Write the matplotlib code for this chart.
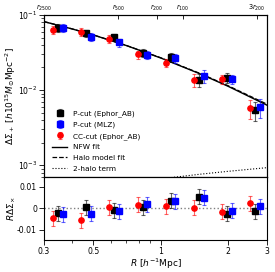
import numpy as np
import matplotlib
matplotlib.use("Agg")
import matplotlib.pyplot as plt
from matplotlib.ticker import FixedLocator, NullFormatter, NullLocator

# ---------------- data ----------------
R_bins = [0.347, 0.463, 0.620, 0.830, 1.11, 1.49, 1.98, 2.65]

ds_black = [0.0677, 0.0570, 0.0504, 0.0315, 0.0273, 0.0136, 0.0146, 0.0054]
ds_blue = [0.0677, 0.0514, 0.0432, 0.0293, 0.0264, 0.0154, 0.0140, 0.0060]
ds_red = [0.0630, 0.0600, 0.0479, 0.0299, 0.0231, 0.0136, 0.0139, 0.0058]
ds_frac_err = [0.12, 0.12, 0.12, 0.12, 0.13, 0.20, 0.14, 0.28]

dx_black = [-0.0022, 0.0005, -0.0008, 0.0005, 0.0036, 0.0054, -0.0025, -0.0013]
dx_blue = [-0.0027, -0.0025, -0.0013, 0.0020, 0.0033, 0.0050, -0.0010, 0.0010]
dx_red = [-0.0045, -0.0056, 0.0006, 0.0017, 0.0011, 0.0003, -0.0015, 0.0025]
dx_err = [0.0035, 0.0035, 0.0035, 0.0035, 0.0035, 0.0035, 0.0035, 0.0035]

R_model = [0.3, 0.4, 0.5, 0.7, 1.0, 1.5, 2.0, 3.0]
nfw_fit = [0.0815, 0.0653, 0.0541, 0.0393, 0.0268, 0.0165, 0.0113, 0.0063]
halo_fit = [0.0816, 0.0654, 0.0542, 0.0394, 0.0270, 0.0167, 0.0115, 0.0065]
R_2h = [0.8, 1.0, 1.5, 2.0, 3.0]
two_halo = [6.0e-4, 6.6e-4, 7.6e-4, 8.3e-4, 9.3e-4]

top_ticks = [0.30, 0.647, 0.962, 1.26, 2.71]
top_labels = [r"$r_{2500}$", r"$r_{500}$", r"$r_{200}$", r"$r_{100}$", r"$3r_{200}$"]

series = [
    ("P-cut (Ephor_AB)", ds_black, dx_black, "k", "s", 1.0),
    ("P-cut (MLZ)", ds_blue, dx_blue, "#0000ff", "s", 1.05),
    ("CC-cut (Ephor_AB)", ds_red, dx_red, "#ff0000", "o", 0.95),
]

# ---------------- figure ----------------
fig = plt.figure(figsize=(2.75, 2.72), dpi=100)
gs = fig.add_gridspec(2, 1, height_ratios=[162, 63], hspace=0,
                      left=0.16, right=0.971, top=0.945, bottom=0.118)
ax1 = fig.add_subplot(gs[0])
ax2 = fig.add_subplot(gs[1], sharex=ax1)

fs_tick = 5.6
fs_lab = 6.5

handles = []
for label, ds, dx, col, mk, fac in series:
    R = np.array(R_bins) * fac
    ds = np.array(ds)
    err = ds * np.array(ds_frac_err)
    ms = 4.2 if mk == "s" else 3.8
    h = ax1.errorbar(R, ds, yerr=err, fmt=mk, color=col, ms=ms,
                     ecolor=col, elinewidth=0.8, capsize=1.6, capthick=0.8,
                     label=label, zorder=3)
    for art in h[1] + h[2]:
        art.set_alpha(0.6)
    handles.append(h)
    h2 = ax2.errorbar(R, dx, yerr=dx_err, fmt=mk, color=col, ms=ms,
                      ecolor=col, elinewidth=0.8, capsize=1.6, capthick=0.8, zorder=3)
    for art in h2[1] + h2[2]:
        art.set_alpha(0.6)

l1, = ax1.plot(R_model, nfw_fit, "-", color="k", lw=1.0, label="NFW fit", zorder=2)
l2, = ax1.plot(R_model, halo_fit, "--", color="k", lw=0.9, label="Halo model fit", zorder=2)
l3, = ax1.plot(R_2h, two_halo, ":", color="k", lw=0.8, label="2-halo term", zorder=2)
handles += [l1, l2, l3]

ax1.set_xscale("log")
ax1.set_yscale("log")
ax1.set_xlim(0.3, 3.0)
ax1.set_ylim(7e-4, 0.1)
ax1.tick_params(axis="x", which="both", bottom=False, labelbottom=False)
ax1.tick_params(axis="y", which="major", labelsize=fs_tick, length=3.5, width=0.6,
                direction="out", pad=1.5)
ax1.tick_params(axis="y", which="minor", length=2, width=0.5, direction="out")
ax1.set_ylabel(r"$\Delta\Sigma_+\ [h10^{15}M_{\odot}{\rm Mpc}^{-2}]$", fontsize=fs_lab)

leg = ax1.legend(handles=handles, loc="lower left", frameon=False, fontsize=5.3,
                 handlelength=2.0, handletextpad=0.8, labelspacing=0.62,
                 borderaxespad=0.3, bbox_to_anchor=(0.015, 0.0))

# top axis with characteristic radii
axt = ax1.twiny()
axt.set_xscale("log")
axt.set_xlim(ax1.get_xlim())
axt.xaxis.set_major_locator(FixedLocator(top_ticks))
axt.xaxis.set_minor_locator(NullLocator())
axt.set_xticklabels(top_labels)
axt.tick_params(axis="x", which="major", labelsize=4.8, length=3, width=0.6,
                direction="in", pad=1.5)

# lower panel
ax2.axhline(0, color="gray", ls=":", lw=1.0, zorder=1)
ax2.set_ylim(-0.0147, 0.0147)
ax2.set_yticks([-0.01, 0, 0.01])
ax2.set_yticklabels(["-0.01", "0", "0.01"])
ax2.set_xticks([0.3, 0.5, 1, 2, 3])
ax2.set_xticklabels(["0.3", "0.5", "1", "2", "3"])
ax2.xaxis.set_minor_formatter(NullFormatter())
ax2.tick_params(axis="both", which="major", labelsize=fs_tick, length=3.5, width=0.6,
                direction="out", pad=1.5)
ax2.tick_params(axis="both", which="minor", length=2, width=0.5, direction="out")
ax2.set_ylabel(r"$R\Delta\Sigma_{\times}$", fontsize=fs_lab)
ax2.set_xlabel(r"$R\ [h^{-1}{\rm Mpc}]$", fontsize=fs_lab, labelpad=0.5)

for ax in (ax1, ax2, axt):
    for s in ax.spines.values():
        s.set_linewidth(0.8)

ax1.yaxis.set_label_coords(-0.115, 0.5)
ax2.yaxis.set_label_coords(-0.115, 0.5)

fig.savefig("out.png", dpi=100)
